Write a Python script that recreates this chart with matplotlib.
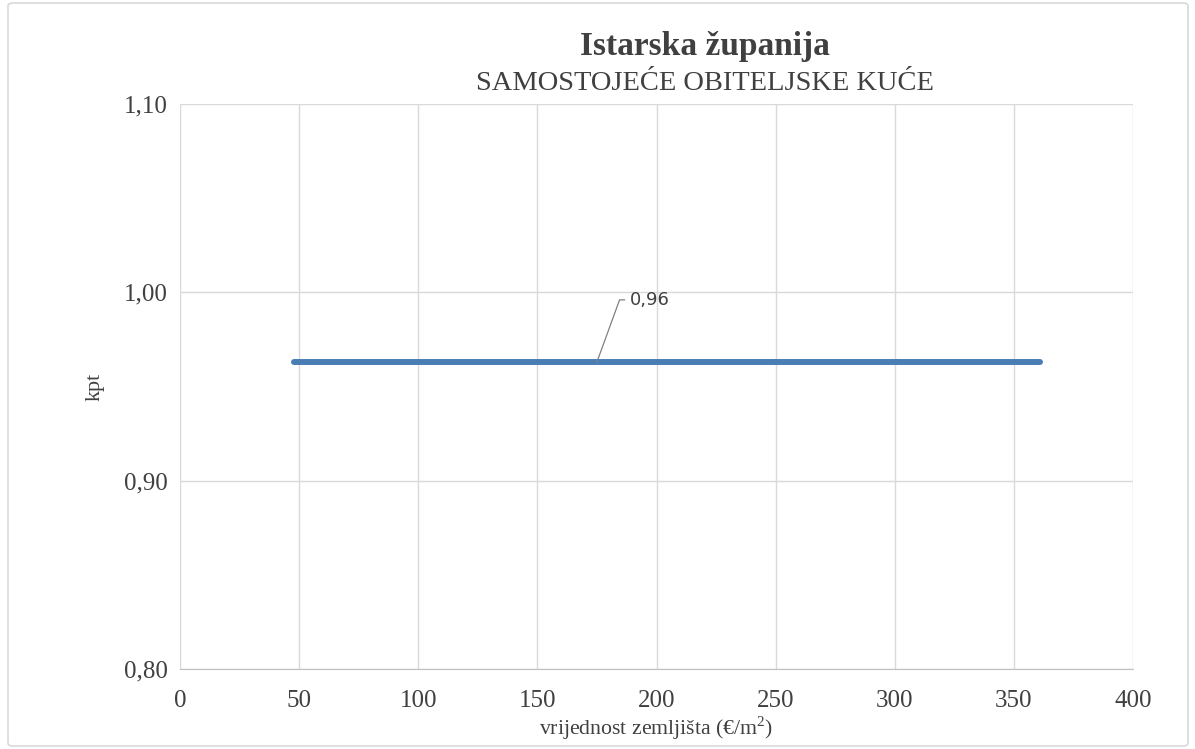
import matplotlib
matplotlib.use("Agg")
import matplotlib.pyplot as plt
from matplotlib.patches import FancyBboxPatch

x_vals = [48, 361]
kpt_vals = [0.963, 0.963]
label_text = "0,96"
label_at_x = 175
x_ticks = [0, 50, 100, 150, 200, 250, 300, 350, 400]
y_ticks = [0.80, 0.90, 1.00, 1.10]

plt.rcParams['font.family'] = ['Liberation Serif', 'DejaVu Serif']
plt.rcParams['mathtext.fontset'] = 'custom'
plt.rcParams['mathtext.rm'] = 'Liberation Serif'

fig = plt.figure(figsize=(11.95, 7.49), dpi=100)
frame = FancyBboxPatch((8/1195, 3/749), 1180/1195, 743/749,
                       boxstyle="round,pad=0,rounding_size=0.004",
                       transform=fig.transFigure, fill=False,
                       edgecolor="#d9d9d9", linewidth=1.2)
fig.patches.append(frame)

ax = fig.add_axes([180/1195, 1 - 669/749, (1133-180)/1195, (669-104)/749])
ax.plot(x_vals, kpt_vals, color="#4a7db4", linewidth=4.3, solid_capstyle="round")

ax.set_xlim(0, 400)
ax.set_ylim(0.80, 1.10)
ax.set_xticks(x_ticks)
ax.set_yticks(y_ticks)
ax.set_xticklabels([str(t) for t in x_ticks])
ax.set_yticklabels([f"{t:.2f}".replace(".", ",") for t in y_ticks])
ax.tick_params(length=0, labelsize=18, colors="#404040")
ax.tick_params(axis="y", pad=9)
ax.tick_params(axis="x", pad=15)
ax.grid(True, color="#d9d9d9", linewidth=1)
ax.set_axisbelow(True)
for s in ["top", "right", "left"]:
    ax.spines[s].set_visible(False)
ax.spines["bottom"].set_color("#bfbfbf")

ax.set_xlabel("vrijednost zemljišta (€/m$^{\\mathrm{2}}$)", fontsize=15.7, color="#404040", labelpad=2)
ax.set_ylabel("kpt", fontsize=16, color="#404040", labelpad=14)

ax.annotate(label_text, xy=(label_at_x, kpt_vals[0]), xytext=(189, 0.996),
            fontsize=13, family=['DejaVu Sans'], color="#404040", va="center", ha="left",
            arrowprops=dict(arrowstyle="-", color="#808080", lw=0.9,
                            connectionstyle="angle,angleA=0,angleB=70,rad=0",
                            shrinkA=2, shrinkB=0))

fig.text(705/1195, 1 - 55/749, "Istarska županija", ha="center", va="baseline",
         fontsize=24, fontweight="bold", color="#404040")
fig.text(705/1195, 1 - 90/749, "SAMOSTOJEĆE OBITELJSKE KUĆE", ha="center", va="baseline",
         fontsize=20.5, color="#404040")

fig.savefig("out.png", dpi=100)
